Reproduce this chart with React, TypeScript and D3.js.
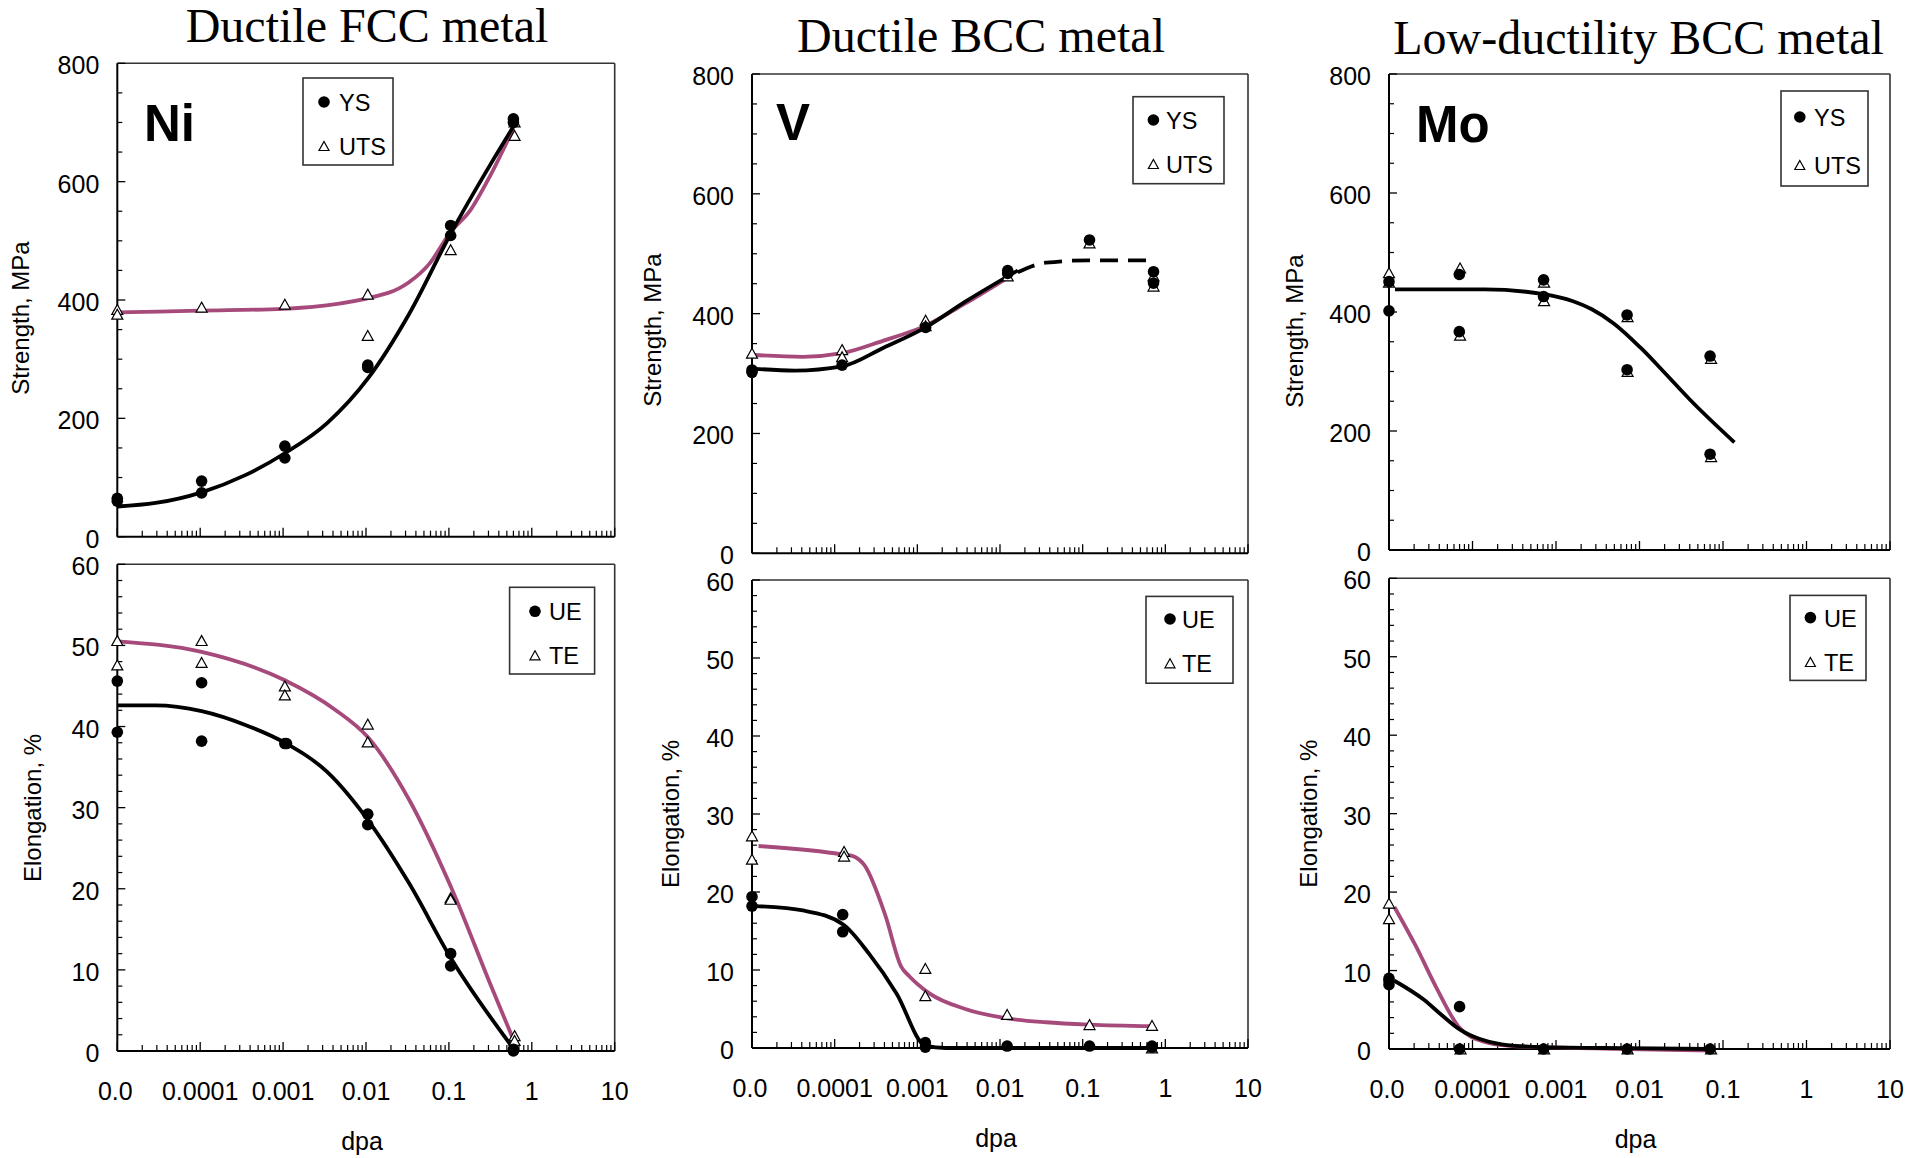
import React from "react";
import * as d3 from "d3";

type Pt = [number, number];

// ---- shared axis definitions ----
const DPA_MAJOR = [1e-5, 1e-4, 1e-3, 1e-2, 1e-1, 1, 10];
const DPA_LABELS = ["0.0", "0.0001", "0.001", "0.01", "0.1", "1", "10"];
const STRENGTH_TICKS = [0, 200, 400, 600, 800];
const ELONG_TICKS = [0, 10, 20, 30, 40, 50, 60];

const TITLES = ["Ductile FCC metal", "Ductile BCC metal", "Low-ductility BCC metal"];
const METALS = ["Ni", "V", "Mo"];

// ---- Ni (FCC) ----
const niYS: Pt[] = [[1e-5, 65], [1e-5, 60], [1.04e-4, 94], [1.04e-4, 74], [1.05e-3, 153], [1.05e-3, 133], [1.05e-2, 290], [1.05e-2, 286], [0.105, 526], [0.105, 509], [0.6, 706], [0.6, 700]];
const niUTS: Pt[] = [[1e-5, 384], [1e-5, 376], [1.04e-4, 388], [1.05e-3, 393], [1.05e-2, 410], [1.05e-2, 340], [0.105, 485], [0.62, 701], [0.62, 678]];
const niYSFit: Pt[] = [[1e-5, 51], [2.9e-5, 57], [1.04e-4, 75], [3.5e-4, 104], [1.05e-3, 141], [3.4e-3, 192], [1.05e-2, 267], [3.3e-2, 376], [0.105, 512], [0.32, 630], [0.6, 693]];
const niUTSFit: Pt[] = [[1e-5, 379], [1e-4, 382], [1e-3, 385], [1.85e-2, 412], [3.3e-2, 430], [5.8e-2, 461], [0.105, 515], [0.18, 551], [0.32, 612], [0.6, 690]];
const niUE: Pt[] = [[1e-5, 45.6], [1e-5, 39.3], [1.04e-4, 45.4], [1.04e-4, 38.2], [1.05e-3, 37.9], [1.1e-3, 37.9], [1.05e-2, 29.2], [1.05e-2, 27.9], [0.105, 12.0], [0.105, 10.5], [0.6, 0.2], [0.6, 0]];
const niTE: Pt[] = [[1e-5, 50.6], [1e-5, 47.6], [1.04e-4, 50.6], [1.04e-4, 47.9], [1.05e-3, 45.0], [1.05e-3, 43.9], [1.05e-2, 40.3], [1.05e-2, 38.1], [0.105, 18.9], [0.105, 18.7], [0.62, 1.9], [0.62, 1.3]];
const niUEFit: Pt[] = [[1e-5, 42.6], [2.9e-5, 42.6], [1.04e-4, 41.9], [3.5e-4, 40.2], [1.05e-3, 38.0], [3.4e-3, 34.4], [1.05e-2, 28.5], [3.3e-2, 20.7], [0.105, 11.5], [0.6, 0.3]];
const niTEFit: Pt[] = [[1e-5, 50.5], [1.04e-4, 49.2], [1.05e-3, 45.7], [4.2e-3, 42.1], [1.05e-2, 38.7], [3.3e-2, 31.0], [0.105, 20.3], [0.32, 8.1], [0.64, 0.7]];

// ---- V (ductile BCC) ----
const vYS: Pt[] = [[1e-5, 306], [1e-5, 302], [1.23e-4, 314], [1.26e-3, 377], [1.24e-2, 472], [1.24e-2, 467], [0.121, 523], [0.72, 470], [0.72, 451]];
const vUTS: Pt[] = [[1e-5, 334], [1.23e-4, 340], [1.23e-4, 328], [1.26e-3, 389], [1.26e-3, 380], [1.24e-2, 463], [0.121, 518], [0.72, 463], [0.72, 446]];
const vYSFit: Pt[] = [[1.06e-5, 308], [3.3e-5, 305], [1.23e-4, 312], [3.9e-4, 343], [1.26e-3, 377], [3.8e-3, 420], [1.64e-2, 472]];
const vYSTrend: Pt[] = [[1.64e-2, 469], [3.6e-2, 485], [0.121, 489], [0.686, 489]];
const vUTSFit: Pt[] = [[1.06e-5, 331], [4.1e-5, 328], [1.23e-4, 334], [3.9e-4, 355], [1.26e-3, 380], [3.8e-3, 417], [1.24e-2, 460]];
const vUE: Pt[] = [[1e-5, 19.4], [1e-5, 18.2], [1.25e-4, 17.1], [1.25e-4, 14.9], [1.25e-3, 0.7], [1.25e-3, 0.1], [1.22e-2, 0.25], [0.121, 0.25], [0.69, 0.25], [0.69, 0.1]];
const vTE: Pt[] = [[1e-5, 27.2], [1e-5, 24.2], [1.3e-4, 25.2], [1.3e-4, 24.6], [1.25e-3, 10.2], [1.25e-3, 6.7], [1.22e-2, 4.3], [0.121, 3.0], [0.69, 2.9], [0.69, 0]];
const vUEFit: Pt[] = [[1.1e-5, 18.2], [4.3e-5, 17.6], [1.28e-4, 15.8], [2.6e-4, 12.1], [5.6e-4, 7.0], [1.25e-3, 0.3], [2.2e-3, 0], [0.69, 0]];
const vTEFit: Pt[] = [[1.2e-5, 25.9], [1.28e-4, 24.8], [1.66e-4, 24.6], [2.3e-4, 23.4], [4.1e-4, 17.0], [6.4e-4, 10.4], [8e-4, 9.2], [1.4e-3, 7.0], [3.8e-3, 5.0], [1.22e-2, 3.8], [3.6e-2, 3.3], [0.121, 3.0], [0.69, 2.8]];

// ---- Mo (low-ductility BCC) ----
const moYS: Pt[] = [[1e-5, 451], [1e-5, 402], [6.95e-5, 463], [6.95e-5, 367], [7.1e-4, 454], [7.1e-4, 426], [7.1e-3, 395], [7.1e-3, 303], [7e-2, 326], [7e-2, 161]];
const moUTS: Pt[] = [[1e-5, 466], [1e-5, 450], [7.1e-5, 474], [7.1e-5, 361], [7.2e-4, 450], [7.2e-4, 419], [7.2e-3, 392], [7.2e-3, 300], [7.2e-2, 322], [7.2e-2, 157]];
const moYSFit: Pt[] = [[1.18e-5, 438], [1.4e-4, 438], [7.1e-4, 430], [1.6e-3, 418], [2.65e-3, 405], [5e-3, 380], [1.03e-2, 340], [2e-2, 298], [4e-2, 253], [0.137, 181]];
const moUE: Pt[] = [[1e-5, 9.0], [1e-5, 8.2], [1e-5, 8.7], [7e-5, 5.4], [7e-5, 0], [7.1e-4, 0], [7.1e-3, 0], [7e-2, 0]];
const moTE: Pt[] = [[1e-5, 18.6], [1e-5, 16.6], [7.2e-5, 0], [7.2e-4, 0], [7.2e-3, 0], [7.2e-2, 0]];
const moUEFit: Pt[] = [[1.16e-5, 8.7], [2.6e-5, 6.3], [4.3e-5, 4.3], [7e-5, 2.5], [1.2e-4, 1.3], [2.24e-4, 0.6], [7.1e-4, 0.24], [7.1e-3, 0.1], [7e-2, 0]];
const moTEFit: Pt[] = [[1.16e-5, 18.1], [2.1e-5, 13.1], [3.7e-5, 7.8], [7e-5, 2.7], [1.4e-4, 0.9], [2.8e-4, 0.4], [7.1e-4, 0.24], [7.1e-3, 0], [7e-2, -0.2]];

const PINK = "#a64a7b";
const SANS = "'Liberation Sans', Arial, Helvetica, sans-serif";
const SERIF = "'Liberation Serif', 'Times New Roman', serif";

type LegendBox = { x: number; y: number; w: number; h: number; mx: number; tx: number; r1: number; r2: number };

type PanelProps = {
  left: number; right: number; top: number; bottom: number;
  yMax: number; yTicks: number[]; yMinor: number;
  yTitle: string; yTitleX: number; yTitleY: number;
  dots: Pt[]; tris: Pt[];
  blackFit: Pt[]; pinkFit?: Pt[]; dashedFit?: Pt[];
  legend: LegendBox; legendLabels: [string, string];
  showX: boolean; xLabelY?: number; dpaY?: number;
};

function triPath(cx: number, cy: number, s = 11) {
  const h = s * 0.9;
  return `M${cx},${cy - h / 2}L${cx + s / 2},${cy + h / 2}L${cx - s / 2},${cy + h / 2}Z`;
}

function Panel(p: PanelProps) {
  const x = d3.scaleLog().domain([1e-5, 10]).range([p.left, p.right]);
  const y = d3.scaleLinear().domain([0, p.yMax]).range([p.bottom, p.top]);
  const line = d3.line<Pt>().x((d) => x(d[0])).y((d) => y(d[1])).curve(d3.curveMonotoneX);

  const xMinor: number[] = [];
  DPA_MAJOR.slice(0, -1).forEach((d) => {
    for (let m = 2; m <= 9; m++) xMinor.push(d * m);
  });
  const yMinor = d3.range(0, p.yMax + 1e-9, p.yMinor).filter((v) => !p.yTicks.includes(v));

  return (
    <g>
      {/* frame */}
      <line x1={p.left} x2={p.right} y1={p.top} y2={p.top} stroke="#333" strokeWidth={1.6} />
      <line x1={p.right} x2={p.right} y1={p.top} y2={p.bottom} stroke="#333" strokeWidth={1.6} />
      <line x1={p.left} x2={p.left} y1={p.top} y2={p.bottom} stroke="#000" strokeWidth={2} />
      <line x1={p.left} x2={p.right} y1={p.bottom} y2={p.bottom} stroke="#000" strokeWidth={2} />

      {/* y ticks */}
      {p.yTicks.map((v) => (
        <g key={`yt${v}`}>
          <line x1={p.left} x2={p.left + 8} y1={y(v)} y2={y(v)} stroke="#000" strokeWidth={1.3} />
          <text x={p.left - 18} y={y(v) + 2} textAnchor="end" dominantBaseline="central" fontSize={25} fontFamily={SANS}>{v}</text>
        </g>
      ))}
      {yMinor.map((v) => (
        <line key={`ym${v}`} x1={p.left} x2={p.left + 5} y1={y(v)} y2={y(v)} stroke="#000" strokeWidth={1.2} />
      ))}

      {/* x ticks */}
      {DPA_MAJOR.map((d) => (
        <line key={`xt${d}`} x1={x(d)} x2={x(d)} y1={p.bottom} y2={p.bottom - 9} stroke="#000" strokeWidth={1.3} />
      ))}
      {xMinor.map((d) => (
        <line key={`xm${d}`} x1={x(d)} x2={x(d)} y1={p.bottom} y2={p.bottom - 6} stroke="#000" strokeWidth={1.2} />
      ))}
      {p.showX && DPA_MAJOR.map((d, i) => (
        <text key={`xl${d}`} x={x(d) - (i === 0 ? 2 : 0)} y={p.xLabelY} textAnchor="middle" dominantBaseline="central" fontSize={25} fontFamily={SANS}>{DPA_LABELS[i]}</text>
      ))}
      {p.showX && (
        <text x={(p.left + p.right) / 2 - 4} y={p.dpaY} textAnchor="middle" dominantBaseline="central" fontSize={25} fontFamily={SANS}>dpa</text>
      )}

      {/* y title */}
      <text transform={`translate(${p.yTitleX},${p.yTitleY}) rotate(-90)`} textAnchor="middle" dominantBaseline="central" fontSize={24} fontFamily={SANS}>{p.yTitle}</text>

      {/* fitted trends */}
      {p.pinkFit && <path d={line(p.pinkFit) || ""} fill="none" stroke={PINK} strokeWidth={3.8} strokeLinejoin="round" />}
      <path d={line(p.blackFit) || ""} fill="none" stroke="#000" strokeWidth={3.8} strokeLinejoin="round" />
      {p.dashedFit && <path d={line(p.dashedFit) || ""} fill="none" stroke="#000" strokeWidth={3.8} strokeDasharray="18,10" />}

      {/* measured points */}
      {p.tris.map((d, i) => (
        <path key={`tr${i}`} d={triPath(x(d[0]), y(d[1]))} fill="#fff" stroke="#000" strokeWidth={1.2} />
      ))}
      {p.dots.map((d, i) => (
        <circle key={`dt${i}`} cx={x(d[0])} cy={y(d[1])} r={5.8} fill="#000" />
      ))}

      {/* legend */}
      <rect x={p.legend.x} y={p.legend.y} width={p.legend.w} height={p.legend.h} fill="#fff" stroke="#333" strokeWidth={1.6} />
      <circle cx={p.legend.mx} cy={p.legend.y + p.legend.r1} r={5.8} fill="#000" />
      <text x={p.legend.tx} y={p.legend.y + p.legend.r1 + 1} dominantBaseline="central" fontSize={23.5} fontFamily={SANS}>{p.legendLabels[0]}</text>
      <path d={triPath(p.legend.mx, p.legend.y + p.legend.r2, 10)} fill="#fff" stroke="#000" strokeWidth={1.2} />
      <text x={p.legend.tx} y={p.legend.y + p.legend.r2 + 1} dominantBaseline="central" fontSize={23.5} fontFamily={SANS}>{p.legendLabels[1]}</text>
    </g>
  );
}

type Column = {
  left: number; right: number;
  sTop: number; sBot: number; eTop: number; eBot: number;
  titleX: number; titleY: number; tagX: number; tagY: number;
  sTitle: [number, number]; eTitle: [number, number];
  sLegend: LegendBox; eLegend: LegendBox;
};

const LAYOUT: Column[] = [
  {
    left: 117.3, right: 614.7, sTop: 63.3, sBot: 536.7, eTop: 564.3, eBot: 1051,
    titleX: 367, titleY: 42, tagX: 144, tagY: 141,
    sTitle: [20, 318], eTitle: [32, 808],
    sLegend: { x: 303, y: 78, w: 90, h: 87, mx: 324, tx: 339, r1: 24, r2: 68 },
    eLegend: { x: 509.6, y: 587.3, w: 85, h: 86.7, mx: 535, tx: 549, r1: 24, r2: 68 },
  },
  {
    left: 752, right: 1248, sTop: 74, sBot: 553.3, eTop: 580, eBot: 1048,
    titleX: 981, titleY: 52, tagX: 776, tagY: 140,
    sTitle: [652, 330], eTitle: [670, 814],
    sLegend: { x: 1133, y: 96.7, w: 91, h: 87, mx: 1153.4, tx: 1166, r1: 23.3, r2: 67.3 },
    eLegend: { x: 1146, y: 596.4, w: 87, h: 86.8, mx: 1170, tx: 1182, r1: 22.6, r2: 66.9 },
  },
  {
    left: 1389, right: 1890, sTop: 74, sBot: 550, eTop: 578.3, eBot: 1049,
    titleX: 1638.6, titleY: 54, tagX: 1416, tagY: 142,
    sTitle: [1294, 331], eTitle: [1308.6, 813.6],
    sLegend: { x: 1781, y: 91, w: 87, h: 95, mx: 1799.8, tx: 1814, r1: 26, r2: 74 },
    eLegend: { x: 1790, y: 595.4, w: 76, h: 85, mx: 1810.4, tx: 1824, r1: 22.2, r2: 66.6 },
  },
];

const STRENGTH_SETS = [
  { dots: niYS, tris: niUTS, black: niYSFit, pink: niUTSFit as Pt[] | undefined, dashed: undefined as Pt[] | undefined },
  { dots: vYS, tris: vUTS, black: vYSFit, pink: vUTSFit as Pt[] | undefined, dashed: vYSTrend as Pt[] | undefined },
  { dots: moYS, tris: moUTS, black: moYSFit, pink: undefined as Pt[] | undefined, dashed: undefined as Pt[] | undefined },
];
const ELONG_SETS = [
  { dots: niUE, tris: niTE, black: niUEFit, pink: niTEFit },
  { dots: vUE, tris: vTE, black: vUEFit, pink: vTEFit },
  { dots: moUE, tris: moTE, black: moUEFit, pink: moTEFit },
];

export default function App() {
  return (
    <svg width={1923} height={1158} style={{ position: "absolute", left: 0, top: 0, display: "block" }}>
      <rect width={1923} height={1158} fill="#fff" />
      {LAYOUT.map((c, i) => {
        const s = STRENGTH_SETS[i];
        const e = ELONG_SETS[i];
        return (
          <g key={METALS[i]}>
            <text x={c.titleX} y={c.titleY} textAnchor="middle" fontSize={48} fontFamily={SERIF}>{TITLES[i]}</text>
            <Panel
              left={c.left} right={c.right} top={c.sTop} bottom={c.sBot}
              yMax={800} yTicks={STRENGTH_TICKS} yMinor={50}
              yTitle="Strength, MPa" yTitleX={c.sTitle[0]} yTitleY={c.sTitle[1]}
              dots={s.dots} tris={s.tris} blackFit={s.black} pinkFit={s.pink} dashedFit={s.dashed}
              legend={c.sLegend} legendLabels={["YS", "UTS"]} showX={false}
            />
            <text x={c.tagX} y={c.tagY} fontSize={51} fontWeight="bold" fontFamily={SANS}>{METALS[i]}</text>
            <Panel
              left={c.left} right={c.right} top={c.eTop} bottom={c.eBot}
              yMax={60} yTicks={ELONG_TICKS} yMinor={2}
              yTitle="Elongation, %" yTitleX={c.eTitle[0]} yTitleY={c.eTitle[1]}
              dots={e.dots} tris={e.tris} blackFit={e.black} pinkFit={e.pink}
              legend={c.eLegend} legendLabels={["UE", "TE"]} showX={true}
              xLabelY={c.eBot + 40} dpaY={c.eBot + 90}
            />
          </g>
        );
      })}
    </svg>
  );
}
